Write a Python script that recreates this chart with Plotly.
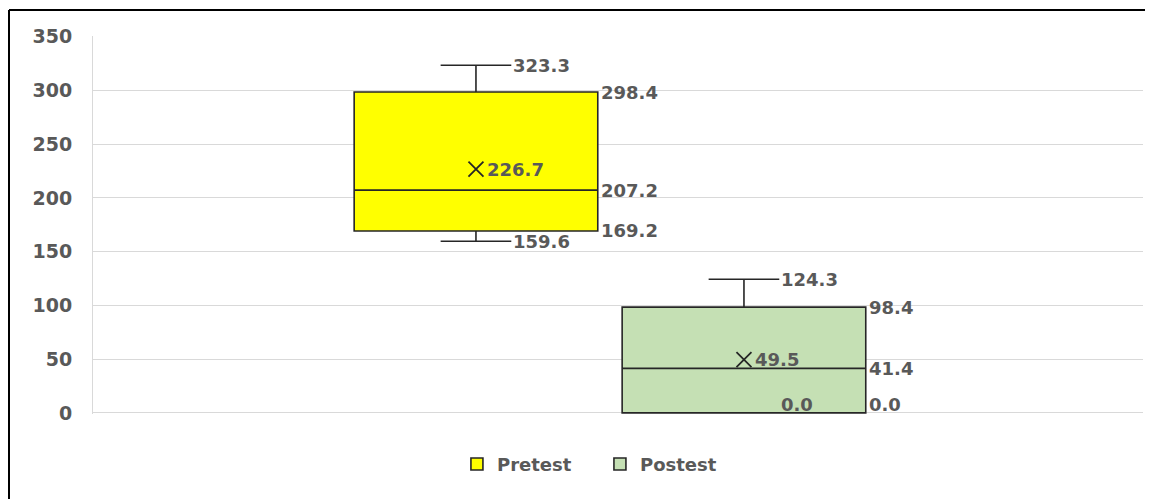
import plotly.graph_objects as go

# ---- data ----
series = ["Pretest", "Postest"]
lower_whisker = [159.6, 0.0]
q1 = [169.2, 0.0]
median = [207.2, 41.4]
q3 = [298.4, 98.4]
upper_whisker = [323.3, 124.3]
mean = [226.7, 49.5]
fill_colors = ["#FFFF00", "#C5E0B4"]
y_ticks = [0, 50, 100, 150, 200, 250, 300, 350]

# ---- style ----
BOX_W = 0.909
WHISK_W = 0.29
LINE_C = "#262626"
TXT_C = "#595959"
FONT = "DejaVu Sans"

fig = go.Figure()
for i, name in enumerate(series):
    fig.add_trace(go.Box(
        name=name, x=[i], q1=[q1[i]], median=[median[i]], q3=[q3[i]],
        lowerfence=[lower_whisker[i]], upperfence=[upper_whisker[i]],
        width=BOX_W, whiskerwidth=WHISK_W, boxpoints=False,
        fillcolor=fill_colors[i], line=dict(color=LINE_C, width=1.6),
        hoverinfo="skip", showlegend=True,
    ))
    fig.add_trace(go.Scatter(
        x=[i], y=[mean[i]], mode="markers", showlegend=False, hoverinfo="skip",
        marker=dict(symbol="x-thin", size=15, line=dict(color=LINE_C, width=1.8)),
    ))

annotations = []
font = dict(family=FONT, size=18, color=TXT_C, weight="bold")
for i in range(len(series)):
    box_r = i + BOX_W / 2
    cap_r = i + WHISK_W * BOX_W / 2
    items = [
        (box_r, q3[i], 1), (box_r, median[i], 1), (box_r, q1[i], 1),
        (cap_r, upper_whisker[i], 0), (cap_r, lower_whisker[i], 0),
        (i, mean[i], 9),
    ]
    for xv, yv, xs in items:
        annotations.append(dict(
            x=xv, y=yv, text=f"{yv:.1f}", showarrow=False, xanchor="left",
            yanchor="middle", xshift=xs, yshift=(8 if yv == 0 else 0), font=font,
        ))

# border (top and left only)
shapes = [
    dict(type="line", xref="paper", yref="paper", x0=-0.08, x1=1.2, y0=1.069, y1=1.069,
         line=dict(color="black", width=2)),
    dict(type="line", xref="paper", yref="paper", x0=-0.08, x1=-0.08, y0=1.069, y1=-0.3,
         line=dict(color="black", width=2)),
]

fig.update_layout(
    width=1145, height=491,
    margin=dict(l=85, r=10, t=28, b=85),
    paper_bgcolor="white", plot_bgcolor="white",
    boxmode="overlay",
    annotations=annotations, shapes=shapes,
    showlegend=True,
    legend=dict(orientation="h", x=0.4828, xanchor="center", y=-0.133, yanchor="middle",
                entrywidth=98,
                font=dict(family=FONT, size=18, color=TXT_C, weight="bold")),
    xaxis=dict(range=[-1.429, 2.489], showticklabels=False, showgrid=False,
               zeroline=False, showline=False, fixedrange=True),
    yaxis=dict(range=[-1, 350.5], tickvals=y_ticks, showgrid=True, gridcolor="#D9D9D9",
               gridwidth=1, zeroline=False, showline=True, linecolor="#D9D9D9",
               ticklabelstandoff=16,
               tickfont=dict(family=FONT, size=19, color=TXT_C, weight="bold")),
)

fig.write_html("out.html")
